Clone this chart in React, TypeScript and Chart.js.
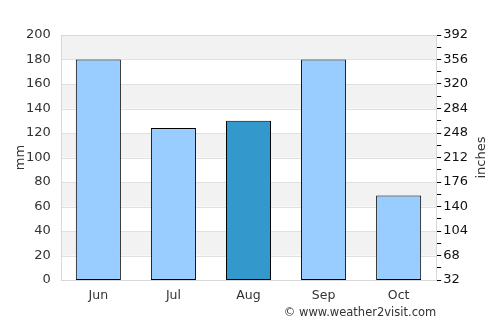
import React, { useEffect, useRef } from "react";
import { Chart, registerables } from "chart.js";

Chart.register(...registerables);

const categories = ["Jun", "Jul", "Aug", "Sep", "Oct"];
const rainfallMm = [180, 124, 130, 180, 69];
const barColors = ["#99ccff", "#99ccff", "#3399cc", "#99ccff", "#99ccff"];
const leftMin = 0;
const leftMax = 200;
const leftStep = 20;
const rightMin = 32;
const rightMax = 392;
const rightStep = 18;
const rightLabelStep = 36;
const copyright = "© www.weather2visit.com";
const leftTitle = "mm";
const rightTitle = "inches";

const bandsPlugin = {
  id: "bands",
  beforeDatasetsDraw(chart: any) {
    const { ctx, chartArea } = chart;
    const y = chart.scales.y;
    ctx.save();
    ctx.fillStyle = "#f2f2f2";
    for (let v = leftMin; v < leftMax; v += leftStep) {
      const idx = Math.round((v - leftMin) / leftStep);
      if (idx % 2 === 1) {
        const top = y.getPixelForValue(v + leftStep);
        const bot = y.getPixelForValue(v);
        ctx.fillRect(chartArea.left, top, chartArea.right - chartArea.left, bot - top);
      }
    }
    ctx.strokeStyle = "#e0e0e0";
    ctx.lineWidth = 1;
    for (let v = leftMin; v <= leftMax; v += leftStep) {
      const py = Math.round(y.getPixelForValue(v)) + 0.5;
      ctx.beginPath();
      ctx.moveTo(chartArea.left, py);
      ctx.lineTo(chartArea.right, py);
      ctx.stroke();
    }
    ctx.strokeStyle = "#d8d8d8";
    ctx.strokeRect(
      Math.round(chartArea.left) + 0.5,
      Math.round(chartArea.top) + 0.5,
      Math.round(chartArea.right - chartArea.left),
      Math.round(chartArea.bottom - chartArea.top)
    );
    ctx.restore();
  },
  afterDraw(chart: any) {
    const { ctx, chartArea } = chart;
    const midY = (chartArea.top + chartArea.bottom) / 2;
    ctx.save();
    ctx.font = "11.5px 'DejaVu Sans'";
    ctx.fillStyle = "#333";
    ctx.textAlign = "right";
    ctx.textBaseline = "middle";
    ctx.fillText(copyright, chartArea.right, 313);
    ctx.font = "13px 'DejaVu Sans'";
    ctx.textAlign = "center";
    ctx.save();
    ctx.translate(21, midY);
    ctx.rotate(-Math.PI / 2);
    ctx.fillText(leftTitle, 0, 0);
    ctx.restore();
    ctx.translate(482, midY);
    ctx.rotate(-Math.PI / 2);
    ctx.fillText(rightTitle, 0, 0);
    ctx.restore();
  },
};

export default function App() {
  const ref = useRef<HTMLCanvasElement>(null);
  useEffect(() => {
    if (!ref.current) return;
    const chart = new Chart(ref.current, {
      type: "bar",
      data: {
        labels: categories,
        datasets: [
          {
            data: rainfallMm,
            backgroundColor: barColors,
            borderColor: "#000",
            borderWidth: 1,
            borderSkipped: false,
            barPercentage: 0.6,
            categoryPercentage: 1,
            yAxisID: "y",
          },
        ],
      },
      options: {
        animation: false,
        responsive: true,
        maintainAspectRatio: false,
        layout: { padding: { left: 16, right: 30, top: 35, bottom: 14 } },
        plugins: { legend: { display: false }, tooltip: { enabled: false } },
        scales: {
          x: {
            grid: { display: false, drawTicks: false },
            border: { display: false },
            ticks: { color: "#333", font: { family: "DejaVu Sans", size: 12.5 }, padding: 8 },
          },
          y: {
            position: "left",
            min: leftMin,
            max: leftMax,
            grid: { display: false, drawTicks: false },
            border: { display: false },
            ticks: { stepSize: leftStep, color: "#333", font: { family: "DejaVu Sans", size: 13 }, padding: 10 },
          },
          y2: {
            position: "right",
            min: rightMin,
            max: rightMax,
            grid: { drawOnChartArea: false, drawTicks: true, tickLength: 5, color: "#000", tickColor: "#000" },
            border: { display: false },
            ticks: {
              stepSize: rightStep,
              color: "#111",
              font: { family: "DejaVu Sans", size: 13 },
              padding: 2,
              autoSkip: false,
              callback: (v: any) => ((v - rightMin) % rightLabelStep === 0 ? String(v) : ""),
            },
          },
        },
      },
      plugins: [bandsPlugin],
    });
    return () => chart.destroy();
  }, []);
  return (
    <div style={{ position: "fixed", left: 0, top: 0, width: 500, height: 325, background: "#fff" }}>
      <canvas ref={ref} />
    </div>
  );
}
